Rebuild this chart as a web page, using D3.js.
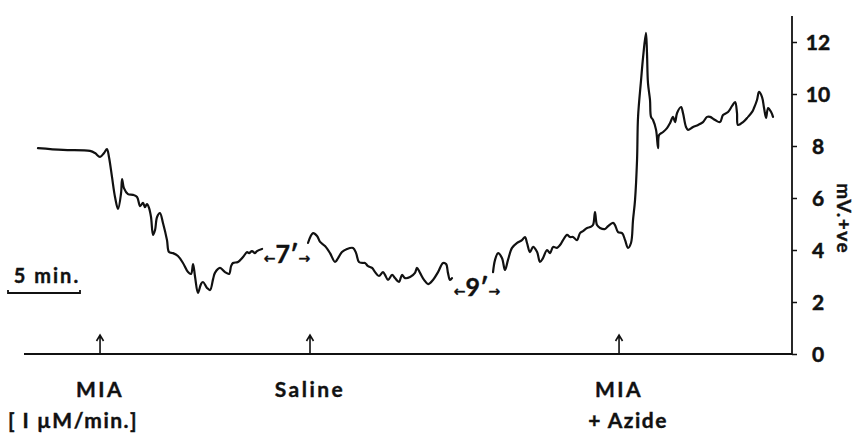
<script src="https://d3js.org/d3.v7.min.js"></script>

<style>
    body { margin: 0; background: #fff; }
    text { font-family: Lato, "DejaVu Sans", sans-serif; font-weight: bold; fill: #111; stroke: #111; stroke-width: 0.4px; }
</style>

<div id="trace"></div>

<script>

    // membrane potential trace, mV (+ve), time in min as drawn on the record
    // null = break in the record
    let traceTime = [
        0.97, 2.71, 4.58, 4.93, 5.28, 5.56, 5.76, 5.90, 6.11, 6.32, 6.53, 6.74, 6.81, 6.94, 7.22, 7.57,
        7.85, 8.06, 8.26, 8.40, 8.54, 8.68, 8.82, 8.96, 9.10, 9.24, 9.44, 9.65, 9.93, 10.07, 10.35, 10.69,
        11.04, 11.39, 11.60, 11.74, 11.88, 12.08, 12.29, 12.43, 12.71, 12.92, 13.13, 13.26, 13.61, 13.96,
        14.24, 14.38, 14.51, 14.86, 15.21, 15.49, 15.63, 15.83, 16.04, 16.18, 16.53,
        null,
        19.72, 20.07, 20.35, 20.56, 20.90, 21.25, 21.60, 21.81, 22.08, 22.43, 22.85, 23.06, 23.26, 23.54,
        23.68, 23.89, 24.17, 24.38, 24.65, 24.93, 25.07, 25.28, 25.56, 25.76, 26.04, 26.25, 26.46, 26.81,
        27.15, 27.29, 27.50, 27.78, 28.06, 28.40, 28.75, 29.10, 29.31, 29.44, 29.58, 29.72,
        null,
        32.57, 32.71, 32.92, 33.19, 33.40, 33.61, 33.89, 34.24, 34.58, 34.79, 34.93, 35.14, 35.35, 35.63,
        35.83, 36.04, 36.32, 36.53, 36.74, 37.01, 37.22, 37.43, 37.71, 37.92, 38.13, 38.40, 38.61, 38.82,
        39.10, 39.31, 39.51, 39.65, 39.79, 40.00, 40.35, 40.56, 40.90, 41.04, 41.25, 41.53, 41.74, 41.94,
        42.15, 42.29, 42.43, 42.57, 42.64, 42.85, 42.99, 43.19, 43.26, 43.33, 43.47, 43.54, 43.68, 43.89,
        44.03, 44.10, 44.38, 44.65, 44.86, 45.07, 45.21, 45.35, 45.63, 45.76, 45.97, 46.11, 46.46, 46.81,
        47.15, 47.43, 47.64, 47.99, 48.33, 48.54, 48.89, 49.17, 49.38, 49.51, 49.58, 49.93, 50.21,
        null,
        50.28, 50.56, 50.69, 50.90, 51.04, 51.25, 51.39, 51.53, 51.67, 51.88, 52.01
    ];

    let traceMV = [
        7.92, 7.85, 7.81, 7.73, 7.58, 7.73, 7.88, 7.58, 6.81, 6.04, 5.58, 6.19, 6.73, 6.38, 6.15, 6.12,
        6.04, 5.69, 5.81, 5.65, 5.77, 5.62, 5.27, 4.58, 4.77, 5.27, 5.42, 5.04, 4.38, 3.92, 3.88, 3.77,
        3.50, 3.15, 3.08, 3.46, 2.96, 2.35, 2.69, 2.77, 2.54, 2.46, 2.88, 3.12, 3.31, 3.15,
        3.08, 3.38, 3.50, 3.54, 3.73, 3.92, 3.88, 3.96, 3.88, 3.96, 4.04,
        null,
        4.27, 4.65, 4.54, 4.31, 4.15, 3.88, 3.54, 3.69, 3.92, 4.04, 4.08, 3.88, 3.54, 3.50,
        3.50, 3.38, 3.31, 3.15, 3.00, 3.15, 3.04, 2.85, 3.04, 2.92, 2.77, 3.04, 2.92, 2.96,
        3.12, 3.31, 3.12, 2.85, 2.69, 2.85, 3.15, 3.50, 3.46, 3.12, 2.85, 2.92,
        null,
        3.15, 3.62, 3.88, 3.69, 3.23, 3.62, 4.08, 4.27, 4.38, 4.50, 4.27, 3.92, 4.12, 3.92,
        3.54, 3.69, 4.00, 3.88, 4.12, 4.08, 4.19, 4.38, 4.58, 4.50, 4.50, 4.38, 4.65, 4.73,
        4.85, 4.88, 4.96, 5.46, 4.96, 4.85, 4.81, 4.92, 5.04, 4.96, 4.69, 4.65, 4.38, 4.08,
        4.27, 5.15, 5.92, 7.46, 9.12, 10.54, 11.42, 12.35, 11.58, 10.42, 9.77, 9.12, 9.00, 8.62,
        7.92, 8.42, 8.54, 8.69, 8.88, 9.12, 8.92, 9.27, 9.50, 9.27, 8.73, 8.62, 8.73, 8.81,
        8.92, 9.12, 9.12, 9.00, 8.92, 9.19, 9.31, 9.54, 9.69, 9.27, 8.81, 8.92, 9.08,
        null,
        9.12, 9.31, 9.46, 9.77, 10.08, 9.88, 9.46, 9.08, 9.46, 9.31, 9.12
    ];

    // injections marked on the baseline
    let eventTimes = [5.28, 19.86, 41.32];
    let eventLine1 = ["MIA", "Saline", "MIA"];
    let eventLine2 = ["[ I \u00b5M/min.]", "", "+ Azide"];
    let eventShift2 = [-27, 0, 9];

    // breaks in the record
    let breakTimes = [18.26, 31.46];
    let breakMV = [3.73, 2.46];
    let breakLabels = ["7\u2032", "9\u2032"];

    let yTicks = [0, 2, 4, 6, 8, 10, 12];
    let scaleBarMin = 5;

    let width = 858, height = 437;

    let svg = d3.select("#trace")
        .append("svg")
            .attr("width", width)
            .attr("height", height);

    let xScale = d3.scaleLinear().domain([0, 53.33]).range([24, 792]),
        yScale = d3.scaleLinear().domain([0, 12]).range([354, 42]);

    // baseline
    svg.append("line")
        .attr("x1", xScale(0))
        .attr("x2", xScale.range()[1])
        .attr("y1", yScale(0))
        .attr("y2", yScale(0))
        .attr("stroke", "#111")
        .attr("stroke-width", 1.8);

    // right axis
    let yAxis = svg.append("g")
        .attr("transform", "translate(" + xScale.range()[1] + ",0)")
        .call(d3.axisRight(yScale).tickValues(yTicks).tickSize(5).tickFormat(d3.format("d")));
    yAxis.select(".domain").remove();
    yAxis.append("line")
        .attr("y1", yScale(0))
        .attr("y2", yScale(13))
        .attr("stroke", "#111")
        .attr("stroke-width", 1.8);
    yAxis.selectAll(".tick line").attr("stroke", "#111").attr("stroke-width", 1.5);
    yAxis.selectAll(".tick text")
        .attr("x", 26)
        .attr("dy", "0.36em")
        .attr("text-anchor", "middle")
        .style("font-family", "Lato")
        .style("font-weight", "bold")
        .style("font-size", "21px")
        .style("fill", "#111")
        .style("stroke", "#111")
        .style("stroke-width", "0.5px");

    // axis title
    svg.append("text")
        .attr("transform", "translate(844," + yScale(5.2) + ") rotate(90)")
        .attr("text-anchor", "middle")
        .attr("dy", "0.35em")
        .style("font-size", "19px")
        .style("letter-spacing", "1.5px")
        .text("mV.+ve");

    // trace
    let traceData = traceTime.map(function(t, i) {
        return {t: t, v: traceMV[i]};
    });

    let line = d3.line()
        .defined(function(d) { return d.t !== null && d.v !== null; })
        .x(function(d) { return xScale(d.t); })
        .y(function(d) { return yScale(d.v); })
        .curve(d3.curveCatmullRom.alpha(0.5));

    svg.append("path")
        .datum(traceData)
        .attr("d", line)
        .attr("fill", "none")
        .attr("stroke", "#111")
        .attr("stroke-width", 2.2)
        .attr("stroke-linejoin", "round")
        .attr("stroke-linecap", "round");

    // event arrows + labels
    eventTimes.forEach(function(t, i) {
        let ex = xScale(t), ey = yScale(0);
        svg.append("path")
            .attr("d", "M" + ex + "," + ey + "V" + (ey - 19) +
                "M" + (ex - 3.5) + "," + (ey - 13) + "L" + ex + "," + (ey - 19) + "L" + (ex + 3.5) + "," + (ey - 13))
            .attr("fill", "none")
            .attr("stroke", "#111")
            .attr("stroke-width", 1.6);

        svg.append("text")
            .attr("x", ex)
            .attr("y", 397)
            .attr("text-anchor", "middle")
            .style("font-size", "21px")
            .style("letter-spacing", "2.5px")
            .text(eventLine1[i]);

        if (eventLine2[i] != "") {
            svg.append("text")
                .attr("x", ex + eventShift2[i])
                .attr("y", 428)
                .attr("text-anchor", "middle")
                .style("font-size", "21px")
                .style("letter-spacing", "1.5px")
                .text(eventLine2[i]);
        }
    });

    // break markers  <- 7' ->
    breakTimes.forEach(function(t, i) {
        let lbl = svg.append("text")
            .attr("x", xScale(t))
            .attr("y", yScale(breakMV[i]))
            .attr("dy", "0.35em")
            .attr("text-anchor", "middle");
        lbl.append("tspan")
            .style("font-family", "DejaVu Sans")
            .style("font-size", "14px")
            .text("\u2190");
        lbl.append("tspan")
            .style("font-size", "25px")
            .text(breakLabels[i]);
        lbl.append("tspan")
            .style("font-family", "DejaVu Sans")
            .style("font-size", "14px")
            .text("\u2192");
    });

    // 5 min. scale bar
    let barX = 8, barY = 293;
    let barLen = xScale(scaleBarMin) - xScale(0);
    svg.append("path")
        .attr("d", "M" + barX + "," + (barY - 3) + "V" + barY + "H" + (barX + barLen) + "V" + (barY - 3))
        .attr("fill", "none")
        .attr("stroke", "#111")
        .attr("stroke-width", 1.8);
    svg.append("text")
        .attr("x", barX + barLen / 2 + 3)
        .attr("y", 283)
        .attr("text-anchor", "middle")
        .style("font-size", "20px")
        .style("letter-spacing", "2px")
        .text("5 min.");

</script>
